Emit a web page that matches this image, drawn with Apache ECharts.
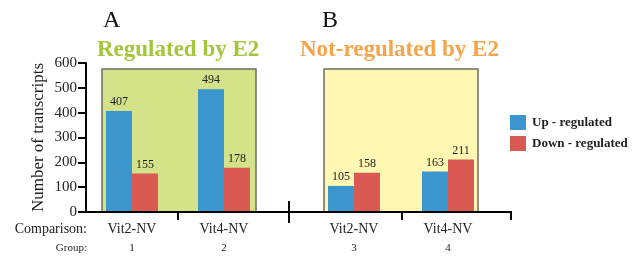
<!DOCTYPE html>
<html>
<head>
<meta charset="utf-8">
<script src="https://cdn.jsdelivr.net/npm/echarts@6/dist/echarts.min.js"></script>
<style>html,body{margin:0;padding:0;background:#fff}#c{width:638px;height:256px}</style>
</head>
<body>
<div id="c"></div>
<script>
var categoriesA = ['Vit2-NV', 'Vit4-NV'];
var groupsA = ['1', '2'];
var categoriesB = ['Vit2-NV', 'Vit4-NV'];
var groupsB = ['3', '4'];
var upA = [407, 494];
var downA = [155, 178];
var upB = [105, 163];
var downB = [158, 211];
var yTicks = [0, 100, 200, 300, 400, 500, 600];
var seriesNames = ['Up - regulated', 'Down - regulated'];

var SERIF = "'Liberation Serif','Times New Roman',serif";
var BLUE = '#3a96cc', RED = '#d85a52';
var chart = echarts.init(document.getElementById('c'), null, {renderer: 'canvas'});

function catAxis(gi, cats, groups) {
  return {
    type: 'category', gridIndex: gi, data: cats,
    axisLine: {show: false}, axisTick: {show: false},
    axisLabel: {
      margin: 8,
      formatter: function (v, i) { return '{c|' + v + '}\n{g|' + groups[i] + '}'; },
      rich: {
        c: {fontFamily: SERIF, fontSize: 14, color: '#222', lineHeight: 19},
        g: {fontFamily: SERIF, fontSize: 11, color: '#222', lineHeight: 19}
      }
    }
  };
}
function valAxis(gi, show) {
  return {
    type: 'value', gridIndex: gi, min: yTicks[0], max: yTicks[yTicks.length - 1], interval: 100,
    show: show,
    name: show ? 'Number of transcripts' : '',
    nameLocation: 'middle', nameGap: 39,
    nameTextStyle: {fontFamily: SERIF, fontSize: 17, color: '#222'},
    splitLine: {show: false},
    axisLine: {show: true, lineStyle: {color: '#000', width: 2}},
    axisTick: {show: true, length: 8, lineStyle: {color: '#000', width: 2}},
    axisLabel: {fontFamily: SERIF, fontSize: 15, color: '#222', margin: 9}
  };
}
function bar(name, xi, data, color) {
  return {
    name: name, type: 'bar', xAxisIndex: xi, yAxisIndex: xi, data: data,
    barWidth: 26, barGap: '0%', z: 5,
    itemStyle: {color: color},
    label: {show: true, position: 'top', distance: 3, fontFamily: SERIF, fontSize: 12, color: '#222'}
  };
}

var border = {stroke: '#6e6e62', lineWidth: 1.5};
chart.setOption({
  animation: false,
  grid: [
    {left: 86, top: 63, width: 184, height: 149},
    {left: 307, top: 63, width: 188, height: 149}
  ],
  xAxis: [catAxis(0, categoriesA, groupsA), catAxis(1, categoriesB, groupsB)],
  yAxis: [valAxis(0, true), valAxis(1, false)],
  legend: {
    orient: 'vertical', left: 510, top: 115, padding: 0, itemWidth: 16, itemHeight: 15, itemGap: 6,
    icon: 'rect', data: seriesNames,
    textStyle: {fontFamily: SERIF, fontSize: 13, fontWeight: 'bold', color: '#222', padding: [0, 0, 0, 1]}
  },
  series: [
    bar(seriesNames[0], 0, upA, BLUE),
    bar(seriesNames[1], 0, downA, RED),
    bar(seriesNames[0], 1, upB, BLUE),
    bar(seriesNames[1], 1, downB, RED)
  ],
  graphic: [
    {type: 'rect', z: -10, shape: {x: 102, y: 69, width: 154, height: 143}, style: Object.assign({fill: '#d4e389'}, border)},
    {type: 'rect', z: -10, shape: {x: 324, y: 69, width: 154, height: 143}, style: Object.assign({fill: '#fff7b2'}, border)},
    {type: 'line', z: 10, shape: {x1: 86, y1: 212, x2: 512, y2: 212}, style: {stroke: '#000', lineWidth: 2}},
    {type: 'line', z: 10, shape: {x1: 178, y1: 212, x2: 178, y2: 220}, style: {stroke: '#000', lineWidth: 2}},
    {type: 'line', z: 10, shape: {x1: 289, y1: 201, x2: 289, y2: 223}, style: {stroke: '#000', lineWidth: 2}},
    {type: 'line', z: 10, shape: {x1: 402, y1: 212, x2: 402, y2: 220}, style: {stroke: '#000', lineWidth: 2}},
    {type: 'line', z: 10, shape: {x1: 511, y1: 212, x2: 511, y2: 220}, style: {stroke: '#000', lineWidth: 2}},
    {type: 'text', x: 87, y: 229, style: {text: 'Comparison:', fontFamily: SERIF, fontSize: 14, fill: '#222', align: 'right', verticalAlign: 'middle'}},
    {type: 'text', x: 87, y: 248, style: {text: 'Group:', fontFamily: SERIF, fontSize: 11, fill: '#222', align: 'right', verticalAlign: 'middle'}},
    {type: 'text', x: 103, y: 21, style: {text: 'A', fontFamily: SERIF, fontSize: 24, fill: '#111', verticalAlign: 'middle'}},
    {type: 'text', x: 322, y: 21, style: {text: 'B', fontFamily: SERIF, fontSize: 24, fill: '#111', verticalAlign: 'middle'}},
    {type: 'text', x: 97, y: 50, style: {text: 'Regulated by E2', fontFamily: SERIF, fontSize: 23, fontWeight: 'bold', fill: '#a3c63b', verticalAlign: 'middle'}},
    {type: 'text', x: 300, y: 50, style: {text: 'Not-regulated by E2', fontFamily: SERIF, fontSize: 23, fontWeight: 'bold', fill: '#f6a44a', verticalAlign: 'middle'}}
  ]
});
</script>
</body>
</html>
